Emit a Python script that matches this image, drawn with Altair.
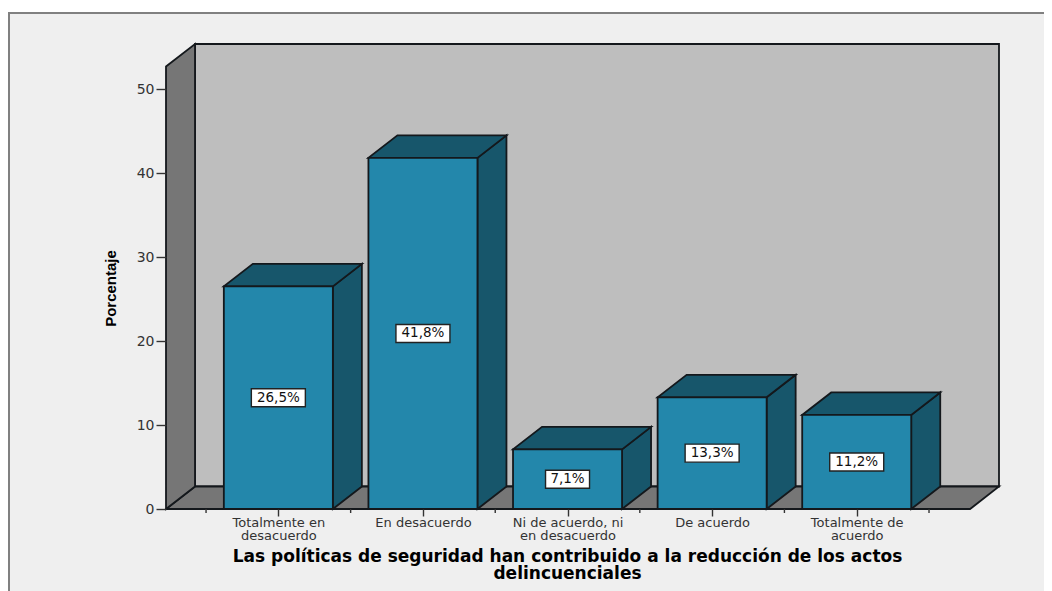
import altair as alt
import pandas as pd

categories = ["Totalmente en\ndesacuerdo", "En desacuerdo", "Ni de acuerdo, ni\nen desacuerdo", "De acuerdo", "Totalmente de\nacuerdo"]
values = [26.5, 41.8, 7.1, 13.3, 11.2]
labels = ["26,5%", "41,8%", "7,1%", "13,3%", "11,2%"]
minor_ticks = [-0.5, 0.5, 1.5, 2.5, 3.5, 4.5]
y_ticks = [0, 10, 20, 30, 40, 50]

XMIN, XFRONT, XMAX = -0.777, 4.784, 4.984
YMAX = 55.36
DX, DY = 0.2006, 2.68
HALF = 0.377

C_FRONT, C_DARK = "#2387ab", "#17566b"
C_WALL, C_SIDE = "#bebebe", "#767676"
C_LINE = "#14181c"

xs = alt.Scale(domain=[XMIN, XMAX], nice=False, zero=False)
ys = alt.Scale(domain=[0, YMAX], nice=False, zero=False)
cat_js = "[" + ",".join("'" + c.replace("\n", "|") + "'" for c in categories) + "]"
X = alt.X("x:Q", scale=xs, axis=alt.Axis(
    values=[0, 1, 2, 3, 4], domain=False, grid=False, tickSize=7, tickColor="#333333", tickWidth=1.4,
    labelExpr=f"split({cat_js}[datum.value], '|')",
    labelFont="DejaVu Sans", labelFontSize=13, labelColor="#333333", labelPadding=0, labelLineHeight=13,
    labelOverlap=False, labelBound=False, labelFlush=False, zindex=1,
    title=["Las políticas de seguridad han contribuido a la reducción de los actos", "delincuenciales"],
    titleFont="DejaVu Sans", titleFontSize=17, titleFontWeight="bold", titleColor="black",
    titleLineHeight=17, titleX=401, titleY=47, titleAlign="center", titleBaseline="middle", titleAnchor="start",
))
Y = alt.Y("y:Q", scale=ys, axis=alt.Axis(
    values=y_ticks, domain=False, grid=False, tickSize=10, tickColor="#333333", tickWidth=1.4,
    labelFont="DejaVu Sans", labelFontSize=14, labelColor="#333333", labelPadding=2, zindex=1,
    title="Porcentaje", titleFont="Liberation Sans", titleFontSize=15, titleFontWeight="bold",
    titleColor="black", titleX=-56, titleY=244, titleAlign="center", titleBaseline="middle", titleAngle=-90,
))
Y2 = alt.Y2("y2")

frame = alt.Chart(pd.DataFrame({"a": [0]})).mark_rect(
    fill="#efefef", stroke="#808080", strokeWidth=2
).encode(x=alt.value(-157), x2=alt.value(1000), y=alt.value(-31), y2=alt.value(700))

def face(rows, fill, stroke=C_LINE, width=1.8):
    return alt.Chart(pd.DataFrame(rows)).mark_area(
        fill=fill, stroke=stroke, strokeWidth=width
    ).encode(x=X, y=Y, y2=Y2, detail="k:N")

wall = [
    {"k": 0, "x": XMIN + DX, "y": DY, "y2": YMAX},
    {"k": 0, "x": XMAX, "y": DY, "y2": YMAX},
]
left = [
    {"k": 0, "x": XMIN, "y": 0, "y2": YMAX - DY},
    {"k": 0, "x": XMIN + DX, "y": DY, "y2": YMAX},
]
floor = [
    {"k": 0, "x": XMIN, "y": 0, "y2": 0},
    {"k": 0, "x": XMIN + DX, "y": 0, "y2": DY},
    {"k": 0, "x": XFRONT, "y": 0, "y2": DY},
    {"k": 0, "x": XMAX, "y": DY, "y2": DY},
]
sides, tops, fronts, boxes = [], [], [], []
for i, (v, lab) in enumerate(zip(values, labels)):
    l, r = i - HALF, i + HALF
    sides += [
        {"k": i, "x": r, "y": 0, "y2": v},
        {"k": i, "x": r + DX, "y": DY, "y2": v + DY},
    ]
    tops += [
        {"k": i, "x": l, "y": v, "y2": v},
        {"k": i, "x": l + DX, "y": v, "y2": v + DY},
        {"k": i, "x": r, "y": v, "y2": v + DY},
        {"k": i, "x": r + DX, "y": v + DY, "y2": v + DY},
    ]
    fronts.append({"x": l, "x2": r, "y": 0, "y2": v})
    boxes.append({"x": i, "y": v / 2, "t": lab})

front = alt.Chart(pd.DataFrame(fronts)).mark_rect(
    fill=C_FRONT, stroke=C_LINE, strokeWidth=1.8
).encode(x=X, x2="x2", y=Y, y2=Y2)

wide = pd.DataFrame([b for b in boxes if len(b["t"]) > 4])
narrow = pd.DataFrame([b for b in boxes if len(b["t"]) <= 4])
box_wide = alt.Chart(wide).mark_rect(
    fill="white", stroke="#222222", strokeWidth=1.4, width=54, height=18
).encode(x=X, y=Y)
box_narrow = alt.Chart(narrow).mark_rect(
    fill="white", stroke="#222222", strokeWidth=1.4, width=44, height=18
).encode(x=X, y=Y)
box_text = alt.Chart(pd.DataFrame(boxes)).mark_text(
    font="DejaVu Sans", fontSize=13.5, color="#111111", align="center", baseline="middle"
).encode(x=X, y=Y, text="t:N")

minor = alt.Chart(pd.DataFrame({"x": minor_ticks})).mark_rule(
    color="#333333", strokeWidth=1.4
).encode(x=X, y=alt.value(465), y2=alt.value(469))

chart = alt.layer(
    frame, face(wall, C_WALL), face(floor, C_SIDE), face(left, C_SIDE), minor,
    face(sides, C_DARK), face(tops, C_DARK), front, box_wide, box_narrow, box_text,
).properties(
    width=833, height=465,
    autosize=alt.AutoSizeParams(type="none"),
    padding={"left": 158, "top": 36, "right": 45, "bottom": 82},
    background="white",
).configure_view(stroke=None)

chart.save("out.html", embed_options={"renderer": "svg", "actions": False})
